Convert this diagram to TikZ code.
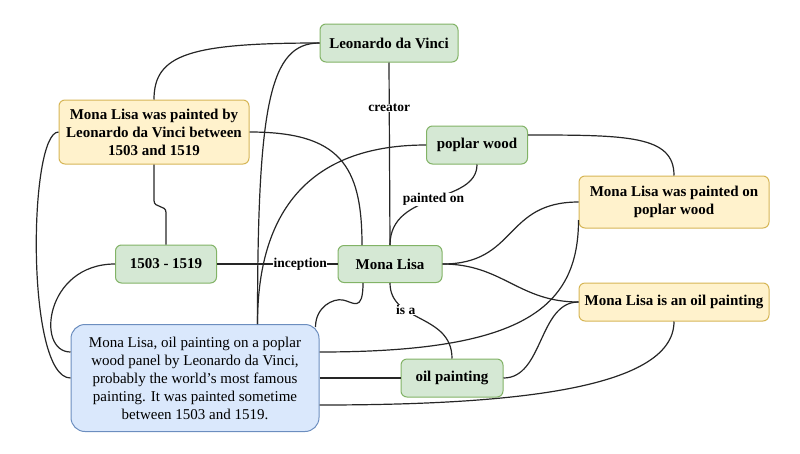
\documentclass[tikz,border=0pt]{standalone}
\usepackage{fontspec}
\setmainfont{Liberation Serif}

\definecolor{conceptfill}{HTML}{D5E8D4}
\definecolor{conceptline}{HTML}{82B366}
\definecolor{statefill}{HTML}{FFF2CC}
\definecolor{stateline}{HTML}{D6B656}
\definecolor{sourcefill}{HTML}{DAE8FC}
\definecolor{sourceline}{HTML}{6C8EBF}

\tikzset{
  box/.style={draw, rounded corners=6pt, line width=1pt, align=center, inner sep=2pt,
    font=\bfseries\fontsize{15}{18}\selectfont},
  concept/.style={box, fill=conceptfill, draw=conceptline, minimum height=38pt},
  statement/.style={box, fill=statefill, draw=stateline},
  source/.style={box, fill=sourcefill, draw=sourceline, rounded corners=14pt,
    font=\fontsize{15}{18}\selectfont},
  link/.style={line width=1.2pt, draw=black!85},
  rel/.style={fill=white, inner sep=0.5pt, font=\bfseries\fontsize{13.5}{15}\selectfont}
}

\begin{document}
\begin{tikzpicture}[x=1pt,y=-1pt]
\useasboundingbox (0,0) rectangle (800,453);

% Place concepts
\node[concept, minimum width=138pt] (leo) at (389,43) {Leonardo da Vinci};
\node[concept, minimum width=101pt] (pw) at (477,145) {poplar wood};
\node[concept, minimum width=101pt] (yr) at (166,264) {1503 - 1519};
\node[concept, minimum width=104pt, minimum height=37pt] (ml) at (390,264) {Mona Lisa};
\node[concept, minimum width=102pt] (op) at (452,378) {oil painting};

% Place statements
\node[statement, minimum width=190pt, minimum height=64pt] (mlpb) at (154,132)
  {Mona Lisa was painted by\\Leonardo da Vinci between\\1503 and 1519};
\node[statement, minimum width=190pt, minimum height=52pt] (mlpw) at (674,202)
  {Mona Lisa was painted on\\poplar wood};
\node[statement, minimum width=190pt, minimum height=38pt] (mlo) at (674,302)
  {Mona Lisa is an oil painting};

% Place source text
\node[source, minimum width=248pt, minimum height=107pt] (blue) at (195,378)
  {Mona Lisa, oil painting on a poplar\\wood panel by Leonardo da Vinci,\\probably the world’s most famous\\painting. It was painted sometime\\between 1503 and 1519.};

% Links from Leonardo da Vinci
\draw[link] (leo.west) .. controls +(-130,0) and +(0,-45) .. (mlpb.north);
\draw[link] (leo.west) .. controls +(-50,0) and +(0,-220) .. ([xshift=-62pt]blue.north east);
\draw[link] (leo.south) -- node[rel,pos=0.25] {creator} (ml.north);

% Links from first statement
\draw[link] (mlpb.east) .. controls +(90,0) and +(0,-80) .. ([xshift=-28pt]ml.north);
\draw[link] (mlpb.south) -- ++(0,36) .. controls +(0,8) and +(0,-8) .. ++(12,12) -- (yr.north);
\draw[link] (mlpb.west) .. controls +(-30,0) and +(-45,0) .. (blue.west);

% Links from dates
\draw[link] (yr.west) .. controls +(-70,0) and +(-35,0) .. ([yshift=26pt]blue.west);
\draw[link] (yr.east) -- node[rel,pos=0.69] {inception} (ml.west);

% Links from poplar wood
\draw[link] (pw.west) .. controls +(-110,0) and +(0,-120) .. ([xshift=-62pt]blue.north east);
\draw[link] (pw.south) .. controls +(0,40) and +(0,-55) .. node[rel] {painted on} (ml.north);
\draw[link] ([yshift=10pt]pw.east) .. controls +(100,0) and +(0,-40) .. (mlpw.north);

% Links from second statement
\draw[link] (mlpw.west) .. controls +(-75,0) and +(75,0) .. (ml.east);
\draw[link] ([yshift=-18pt]mlpw.west) .. controls +(0,90) and +(200,0) .. ([yshift=26pt]blue.east);

% Links from Mona Lisa
\draw[link] (ml.east) .. controls +(60,0) and +(-60,0) .. (mlo.west);
\draw[link] ([xshift=-27pt]ml.south) .. controls +(0,30) and +(10,2) .. ++(-20,17)
  .. controls +(-10,-2) and +(0,-20) .. ([xshift=-4pt,yshift=-3pt]blue.north east);
\draw[link] (ml.south) .. controls +(0,40) and +(0,-45) .. node[rel,pos=0.33] {is a} (op.north);

% Links from oil painting
\draw[link] (blue.east) -- (op.west);
\draw[link] (op.east) .. controls +(40,0) and +(-40,0) .. (mlo.west);
\draw[link] (mlo.south) .. controls +(0,70) and +(180,0) .. ([yshift=-27pt]blue.east);
\end{tikzpicture}
\end{document}
